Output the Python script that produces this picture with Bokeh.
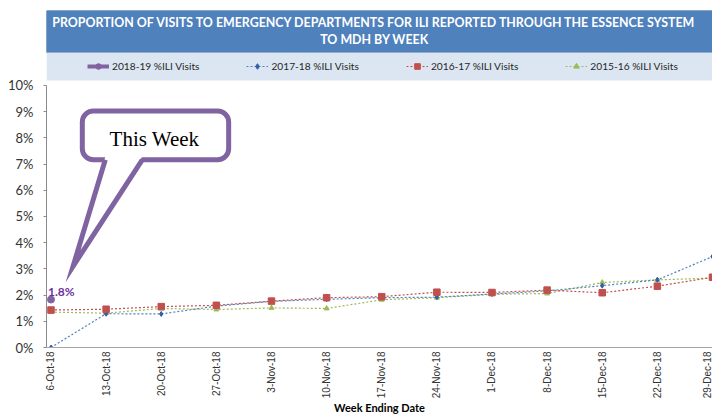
import math
from bokeh.plotting import figure
from bokeh.models import Range1d, FixedTicker, PrintfTickFormatter, Legend, LegendItem
from bokeh.core.properties import value
from bokeh.embed import file_html
from bokeh.resources import INLINE

# ---------------- data ----------------
weeks = ["6-Oct-18", "13-Oct-18", "20-Oct-18", "27-Oct-18", "3-Nov-18", "10-Nov-18",
         "17-Nov-18", "24-Nov-18", "1-Dec-18", "8-Dec-18", "15-Dec-18", "22-Dec-18", "29-Dec-18"]
s2018_19 = [1.83]
s2017_18 = [0.0, 1.29, 1.28, 1.58, 1.76, 1.84, 1.90, 1.92, 2.04, 2.16, 2.36, 2.58, 3.47]
s2016_17 = [1.43, 1.46, 1.56, 1.61, 1.77, 1.90, 1.94, 2.11, 2.10, 2.19, 2.09, 2.34, 2.68]
s2015_16 = [1.35, 1.31, 1.49, 1.45, 1.51, 1.49, 1.82, 1.90, 2.03, 2.06, 2.48, 2.58, 2.65]
y_ticks = [0, 1, 2, 3, 4, 5, 6, 7, 8, 9, 10]
series_labels = ["2018-19 %ILI Visits", "2017-18 %ILI Visits", "2016-17 %ILI Visits", "2015-16 %ILI Visits"]
title_lines = ["PROPORTION OF VISITS TO EMERGENCY DEPARTMENTS FOR ILI REPORTED THROUGH THE ESSENCE SYSTEM",
               "TO MDH BY WEEK"]
x_title = "Week Ending Date"
callout_text = "This Week"
this_week_label = "1.8%"

PURPLE = "#8064A2"
BLUE = "#4F81BD"
BLUE_M = "#2F5FA8"
RED = "#C0504D"
GREEN = "#9BBB59"

X0, X1 = -0.0816, 12.0     # visible x range (week index)
Y_TOP = 12.86              # frame top (header band lives above 10%)

p = figure(width=712, height=417, x_range=Range1d(X0, X1), y_range=Range1d(0, Y_TOP),
           output_backend="svg", toolbar_location=None,
           min_border_left=46, min_border_right=0, min_border_top=10, min_border_bottom=60)
p.outline_line_color = None
p.grid.visible = False

# header: title bar and legend band (drawn above the 10% line)
p.quad(left=[X0], right=[X1], bottom=[11.26], top=[Y_TOP], fill_color=BLUE, line_color="#3F6E9E", line_width=1)
p.quad(left=[X0], right=[X1], bottom=[10.19], top=[11.26], fill_color="#DCE6F2", line_color=None)
p.text(x=[5.868, 5.868], y=[12.42, 11.76], text=title_lines, text_align="center", text_baseline="middle",
       text_font=value("Lato"), text_font_style="bold", text_font_size="12.4px", text_color="white")

# series
xs = list(range(len(weeks)))
l3 = p.line(xs, s2015_16, line_color=GREEN, line_width=1.2, line_dash="2 2")
m3 = p.scatter(xs, s2015_16, marker="triangle", size=5, fill_color=GREEN, line_color=GREEN)
l1 = p.line(xs, s2017_18, line_color=BLUE, line_width=1.2, line_dash="2 2")
m1 = p.scatter(xs, s2017_18, marker="diamond", size=5, fill_color=BLUE_M, line_color=BLUE_M)
l2 = p.line(xs, s2016_17, line_color=RED, line_width=1.2, line_dash="2 2")
m2 = p.scatter(xs, s2016_17, marker="square", size=6.5, fill_color=RED, line_color=RED)
l0 = p.line(xs[:len(s2018_19)], s2018_19, line_color=PURPLE, line_width=4)
m0 = p.scatter(xs[:len(s2018_19)], s2018_19, marker="circle", size=7, fill_color=PURPLE, line_color=PURPLE)

legend = Legend(items=[LegendItem(label=series_labels[0], renderers=[l0, m0]),
                       LegendItem(label=series_labels[1], renderers=[l1, m1]),
                       LegendItem(label=series_labels[2], renderers=[l2, m2]),
                       LegendItem(label=series_labels[3], renderers=[l3, m3])],
                orientation="horizontal", location=(41, 274), border_line_color=None,
                background_fill_alpha=0, padding=0, margin=0, spacing=47,
                glyph_width=22, glyph_height=14, label_standoff=3, label_height=14,
                label_text_font="Lato", label_text_font_size="10.2px", label_text_color="#262626")
p.add_layout(legend, "center")

# callout "This Week" (in data units)
box_l, box_r, box_b, box_t = 0.568, 3.223, 7.162, 9.026
tip_x, tip_y = 0.40, 3.10
base_l, base_r = 0.985, 1.655
p.quad(left=[box_l], right=[box_r], bottom=[box_b], top=[box_t], fill_color="white",
       line_color=PURPLE, line_width=5, border_radius=11)
p.patch([base_l, base_r, tip_x], [box_b + 0.12, box_b + 0.12, tip_y], fill_color="white", line_color=None)
p.line([base_l, tip_x, base_r], [box_b, tip_y, box_b], line_color=PURPLE, line_width=5, line_join="miter")
p.text(x=[1.878], y=[7.96], text=[callout_text], text_align="center",
       text_baseline="middle", text_font=value("Liberation Serif"), text_font_size="21px", text_color="black")

# data label of the current week
p.text(x=[0], y=[s2018_19[0]], text=[this_week_label], x_offset=-3, y_offset=-8,
       text_align="left", text_baseline="middle", text_font=value("Lato"),
       text_font_style="bold", text_font_size="12px", text_color="#7030A0")

# axes
xa = p.xaxis[0]
xa.ticker = FixedTicker(ticks=xs)
xa.major_label_overrides = {i: w for i, w in enumerate(weeks)}
xa.major_label_orientation = math.pi / 2
xa.major_tick_out = 0
xa.major_tick_in = 0
xa.minor_tick_out = 0
xa.minor_tick_in = 0
xa.axis_line_color = "#A6A6A6"
xa.major_label_text_font = "Liberation Sans"
xa.major_label_text_font_size = "10px"
xa.major_label_text_color = "#333333"
xa.major_label_standoff = 4
xa.axis_label = x_title
xa.axis_label_text_font = "Lato"
xa.axis_label_text_font_style = "bold"
xa.axis_label_text_font_size = "11px"
xa.axis_label_text_color = "black"
xa.axis_label_standoff = 0

ya = p.yaxis[0]
ya.ticker = FixedTicker(ticks=y_ticks)
ya.formatter = PrintfTickFormatter(format="%d%%")
ya.bounds = (0, 10)
ya.major_tick_out = 3
ya.major_tick_in = 0
ya.minor_tick_out = 0
ya.minor_tick_in = 0
ya.axis_line_color = "#8C8C8C"
ya.major_tick_line_color = "#8C8C8C"
ya.major_label_text_font = "Lato"
ya.major_label_text_font_size = "13px"
ya.major_label_text_color = "#333333"
ya.major_label_standoff = 10

open("out.html", "w").write(file_html(p, INLINE))
